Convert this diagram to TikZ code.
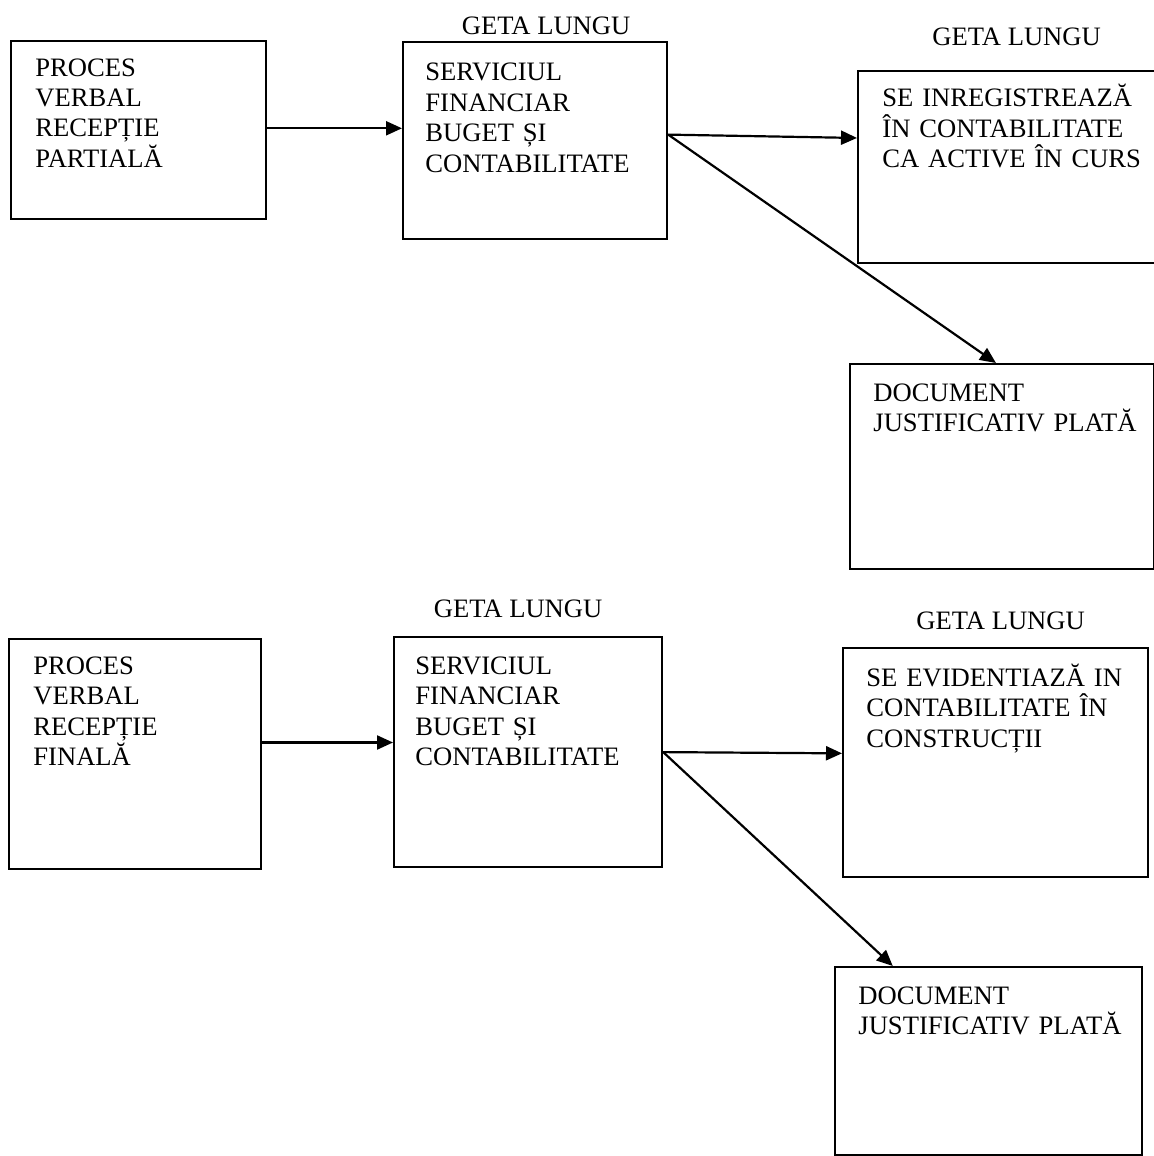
\documentclass[tikz,border=0pt]{standalone}
\usepackage{fontspec}
\setmainfont{Liberation Serif}
\usepackage{tikz}
\usetikzlibrary{calc,arrows.meta}

\begin{document}
\begin{tikzpicture}[x=0.5pt, y=-0.5pt,
    box/.style={draw=black, line width=1.1pt, anchor=north west, inner sep=0pt},
    txt/.style={anchor=base west, inner sep=0pt, text width=160pt, align=left, font=\fontsize{13.3}{15.25}\selectfont},
    who/.style={anchor=base, inner sep=0pt, font=\fontsize{13.3}{15.25}\selectfont},
    arr/.style={line width=1.1pt, -{Triangle[length=8pt, width=7pt]}}]

    \useasboundingbox (0,0) rectangle (1154,1156);

    \node[box, minimum width=127.5pt, minimum height=89pt] (pvp) at (10,40) {};
    \node[txt] (pvpt) at ($(pvp.north west) + (25, 36)$) {PROCES\\VERBAL\\RECEPȚIE\\PARTIALĂ};

    \node[box, minimum width=132pt, minimum height=98.5pt] (sfb) at (402,41) {};
    \node[txt] (sfbt) at ($(sfb.north west) + (23, 40)$) {SERVICIUL\\FINANCIAR\\BUGET ȘI\\CONTABILITATE};
    \node[who] (sfbw) at ($(sfb.north) + (11, -6)$) {GETA LUNGU};

    \node[box, minimum width=156.5pt, minimum height=96pt] (inr) at (857,70) {};
    \node[txt] (inrt) at ($(inr.north west) + (25, 37)$) {SE INREGISTREAZĂ\\ÎN CONTABILITATE\\CA ACTIVE ÎN CURS};
    \node[who] (inrw) at ($(inr.north) + (2, -24)$) {GETA LUNGU};

    \node[box, minimum width=152pt, minimum height=102.5pt] (docp) at (849,363) {};
    \node[txt] (docpt) at ($(docp.north west) + (24, 38)$) {DOCUMENT\\JUSTIFICATIV PLATĂ};

    \coordinate (s1) at ($(pvp.north east)!0.49!(pvp.south east)$);
    \draw[arr] (s1) -- (s1 -| sfb.west);

    \coordinate (s2) at ($(sfb.north east)!0.47!(sfb.south east)$);
    \draw[arr] (s2) -- ($(inr.north west)!0.35!(inr.south west)$);
    \draw[arr] (s2) -- ($(docp.north west)!0.48!(docp.north east)$);

    \node[box, minimum width=126pt, minimum height=115pt] (pvf) at (8,638) {};
    \node[txt] (pvft) at ($(pvf.north west) + (25, 36)$) {PROCES\\VERBAL\\RECEPȚIE\\FINALĂ};

    \node[box, minimum width=134pt, minimum height=115pt] (sfbf) at (393,636) {};
    \node[txt] (sfbft) at ($(sfbf.north west) + (22, 38)$) {SERVICIUL\\FINANCIAR\\BUGET ȘI\\CONTABILITATE};
    \node[who] (sfbfw) at ($(sfbf.north) + (-10, -19)$) {GETA LUNGU};

    \node[box, minimum width=152.5pt, minimum height=114.5pt] (evd) at (842,647) {};
    \node[txt] (evdt) at ($(evd.north west) + (24, 39)$) {SE EVIDENTIAZĂ IN\\CONTABILITATE ÎN\\CONSTRUCȚII};
    \node[who] (evdw) at ($(evd.north) + (5, -18)$) {GETA LUNGU};

    \node[box, minimum width=153.5pt, minimum height=94pt] (docf) at (834,966) {};
    \node[txt] (docft) at ($(docf.north west) + (24, 38)$) {DOCUMENT\\JUSTIFICATIV PLATĂ};

    \coordinate (s3) at ($(pvf.north east)!0.45!(pvf.south east)$);
    \draw[arr] (s3) -- (s3 -| sfbf.west);

    \coordinate (s4) at ($(sfbf.north east)!0.5!(sfbf.south east)$);
    \draw[arr] (s4) -- ($(evd.north west)!0.46!(evd.south west)$);
    \draw[arr] (s4) -- ($(docf.north west)!0.19!(docf.north east)$);

\end{tikzpicture}
\end{document}
